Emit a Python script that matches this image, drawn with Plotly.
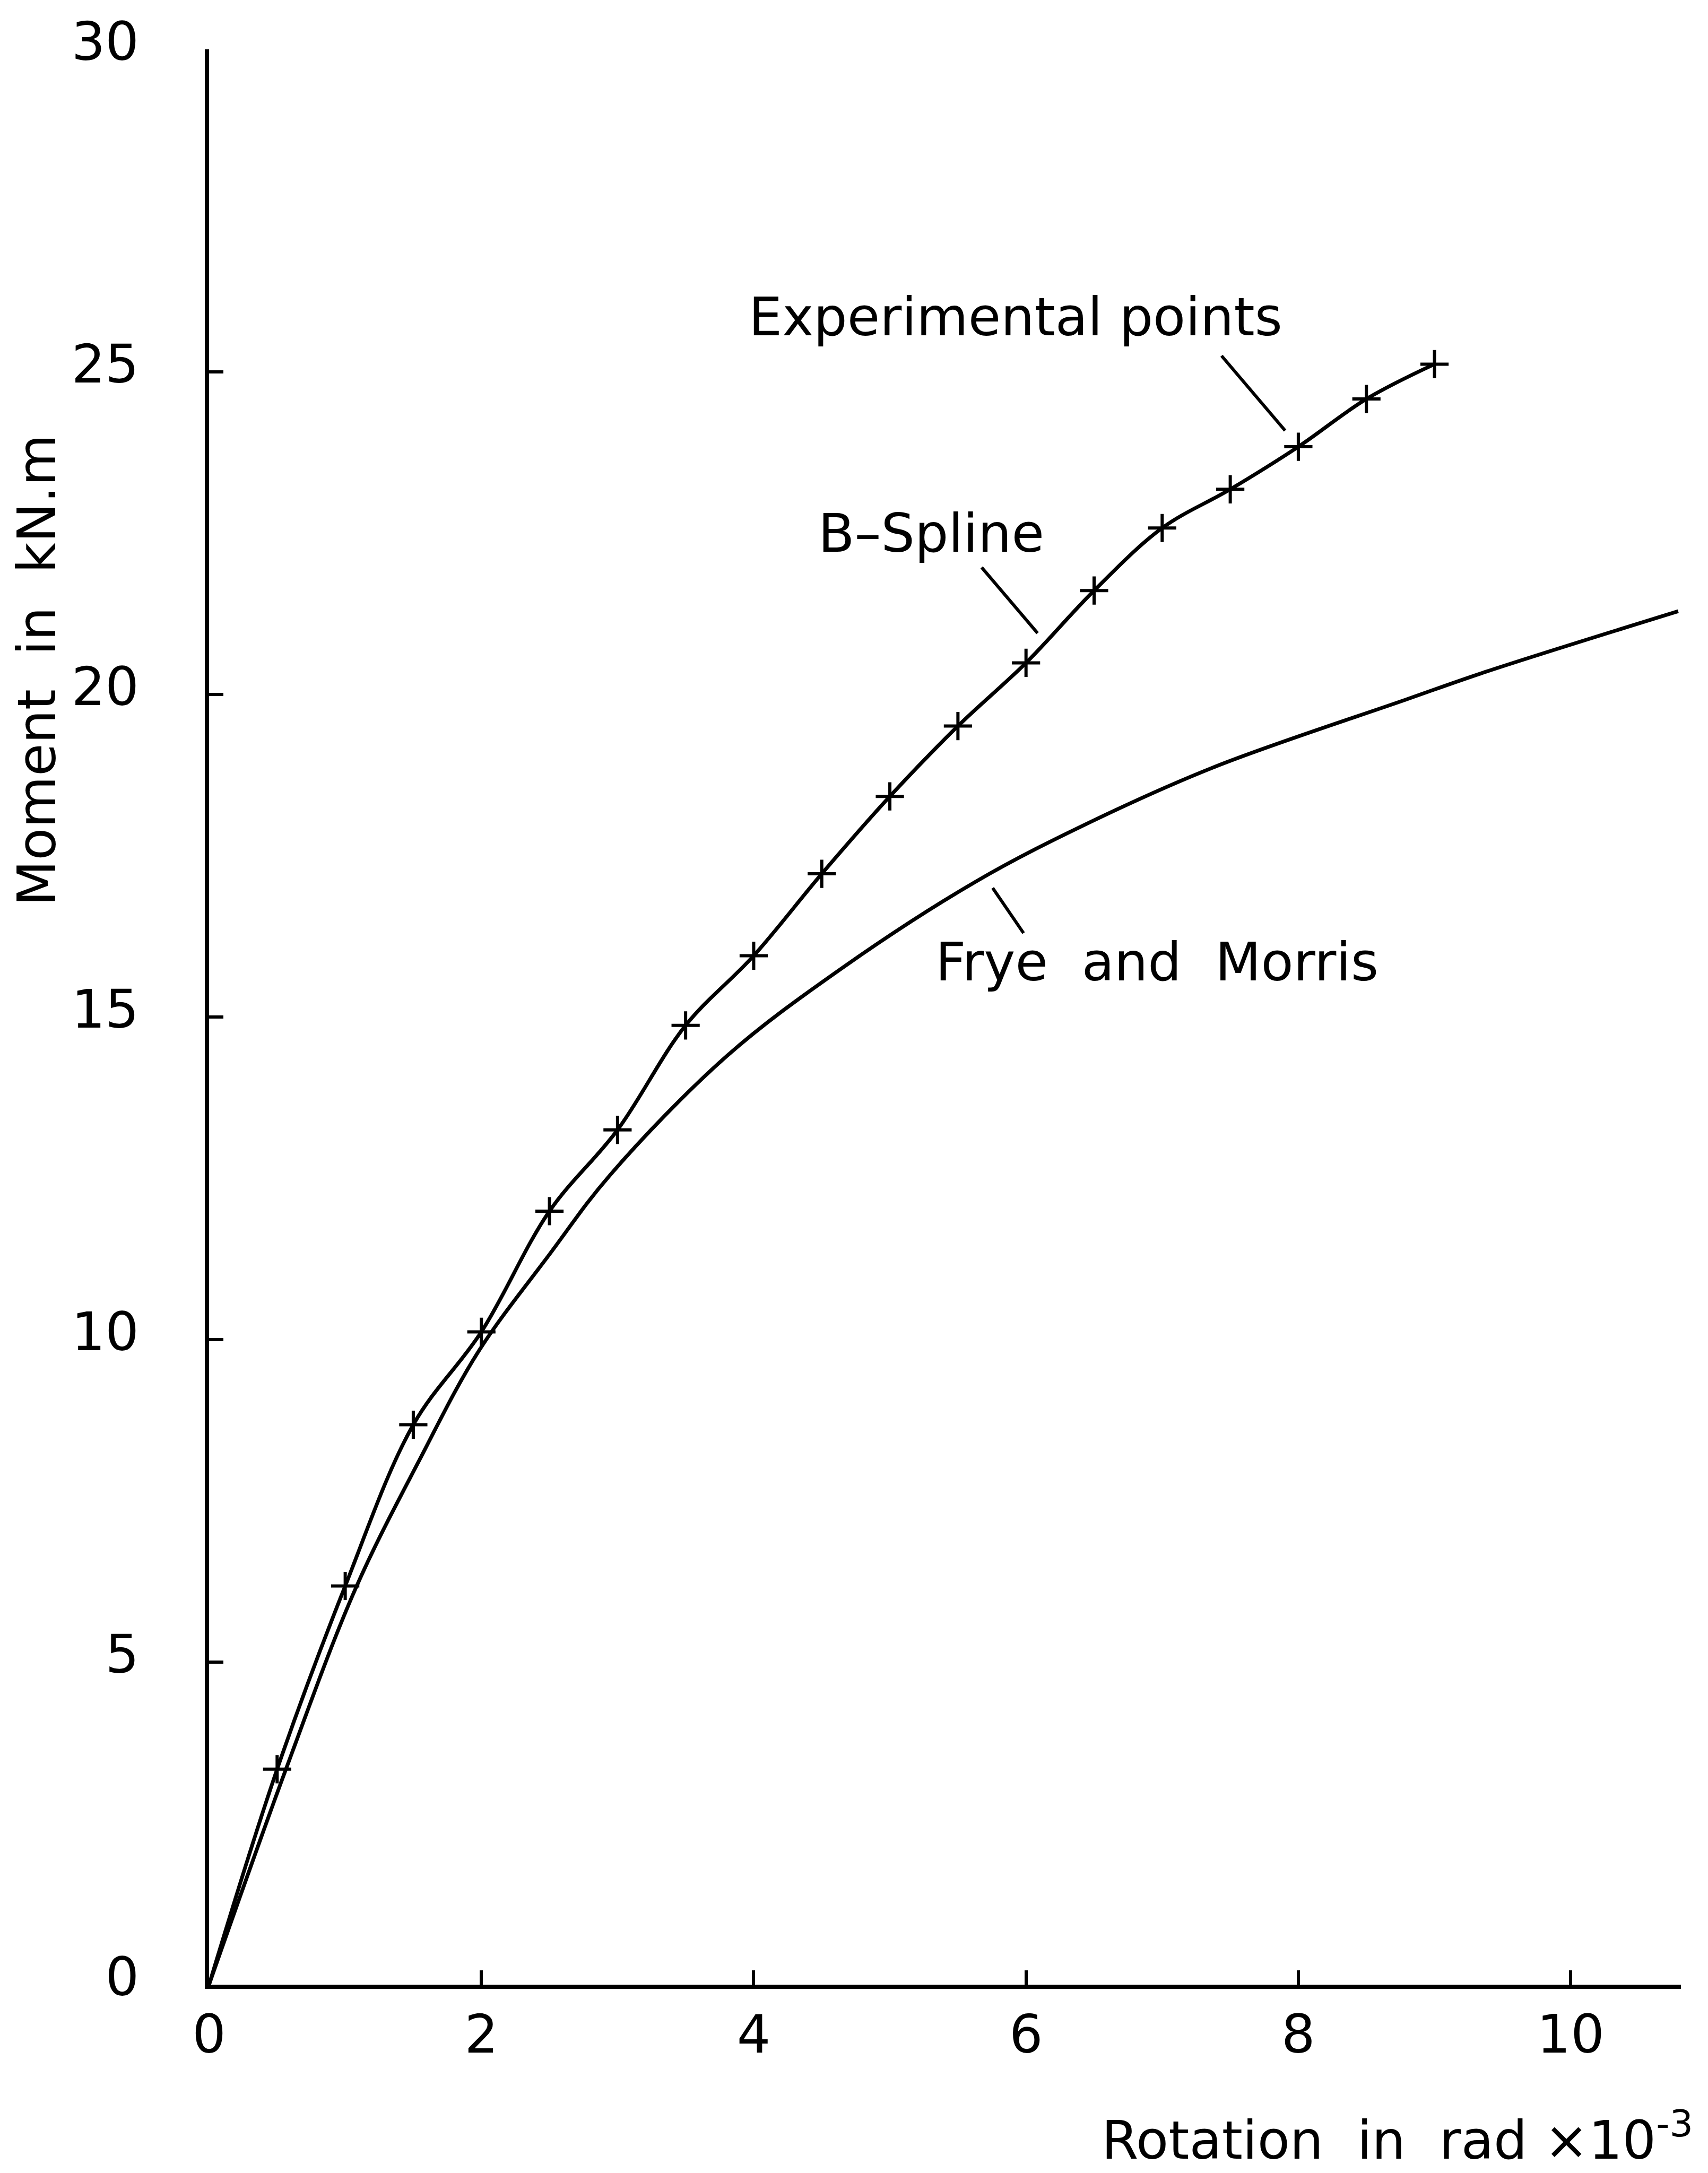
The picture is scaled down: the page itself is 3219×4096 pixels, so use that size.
import plotly.graph_objects as go

# ---- data ----
exp_rotation = [0.5, 1.0, 1.5, 2.0, 2.5, 3.0, 3.5, 4.0, 4.5, 5.0, 5.5, 6.0, 6.5, 7.0, 7.5, 8.0, 8.5, 9.0]
exp_moment = [3.34, 6.18, 8.68, 10.12, 11.99, 13.25, 14.87, 15.95, 17.22, 18.42, 19.51, 20.49, 21.61, 22.58, 23.18, 23.84, 24.58, 25.12]

spline_rotation = [0.0] + exp_rotation
spline_moment = [0.0] + exp_moment

frye_rotation = [0.0, 0.563, 1.076, 1.547, 1.977, 2.5, 2.945, 3.80, 4.65, 5.64, 6.5, 7.40, 8.79, 9.375, 10.79]
frye_moment = [0.0, 3.33, 6.14, 8.14, 9.81, 11.32, 12.55, 14.39, 15.76, 17.11, 18.05, 18.89, 19.92, 20.35, 21.29]

x_ticks = [0, 2, 4, 6, 8, 10]
y_ticks = [0, 5, 10, 15, 20, 25, 30]

FONT = "DejaVu Sans"
LW = 7

fig = go.Figure()
fig.add_trace(go.Scatter(x=frye_rotation, y=frye_moment, mode="lines",
                         line=dict(color="black", width=LW, shape="spline", smoothing=1.0),
                         showlegend=False, hoverinfo="skip"))
fig.add_trace(go.Scatter(x=spline_rotation, y=spline_moment, mode="lines",
                         line=dict(color="black", width=LW, shape="spline", smoothing=1.0),
                         showlegend=False, hoverinfo="skip"))
fig.add_trace(go.Scatter(x=exp_rotation, y=exp_moment, mode="markers",
                         marker=dict(symbol="cross-thin", size=38, color="black",
                                     line=dict(color="black", width=6)),
                         showlegend=False))

# leader lines for the labels
leaders = [
    ((7.436, 25.25), (7.903, 24.09)),
    ((5.674, 21.97), (6.085, 20.95)),
    ((5.755, 17.00), (5.982, 16.30)),
]
for (x0, y0), (x1, y1) in leaders:
    fig.add_shape(type="line", xref="x", yref="y", x0=x0, y0=y0, x1=x1, y1=y1,
                  line=dict(color="black", width=6))

labels = [
    ("Experimental points", 5.922, 25.85),
    ("B\u2013Spline", 5.304, 22.50),
    ("Frye  and  Morris", 6.960, 15.85),
]
for txt, lx, ly in labels:
    fig.add_annotation(text=txt, x=lx, y=ly, xref="x", yref="y", showarrow=False,
                       xanchor="center", yanchor="middle",
                       font=dict(family=FONT, size=100, color="black"))

# axis titles
fig.add_annotation(text="Moment  in  kN.m", x=-0.1168, y=0.6793, xref="paper", yref="paper",
                   showarrow=False, textangle=-90, xanchor="center", yanchor="middle",
                   font=dict(family=FONT, size=100, color="black"))
fig.add_annotation(text="Rotation  in  rad \u00d710<sup>-3</sup>", x=1.009, y=-0.0785,
                   xref="paper", yref="paper", showarrow=False,
                   xanchor="right", yanchor="middle",
                   font=dict(family=FONT, size=100, color="black"))

axis_common = dict(showgrid=False, zeroline=False, showline=True, linecolor="black",
                   linewidth=8, ticks="inside", ticklen=27, tickwidth=6, tickcolor="black",
                   tickfont=dict(family=FONT, size=100, color="black"))

fig.update_layout(
    width=3219, height=4096, autosize=False,
    margin=dict(l=386, r=59, t=79, b=363, pad=0),
    paper_bgcolor="white", plot_bgcolor="white",
    xaxis=dict(range=[0, 10.81], tickvals=x_ticks, ticktext=[str(v) for v in x_ticks],
               ticklabelstandoff=0, **axis_common),
    yaxis=dict(range=[0, 30], tickvals=y_ticks, ticktext=[str(v) for v in y_ticks],
               ticklabelstandoff=104, ticklabelshift=-15, **axis_common),
)

fig.write_html("out.html")
